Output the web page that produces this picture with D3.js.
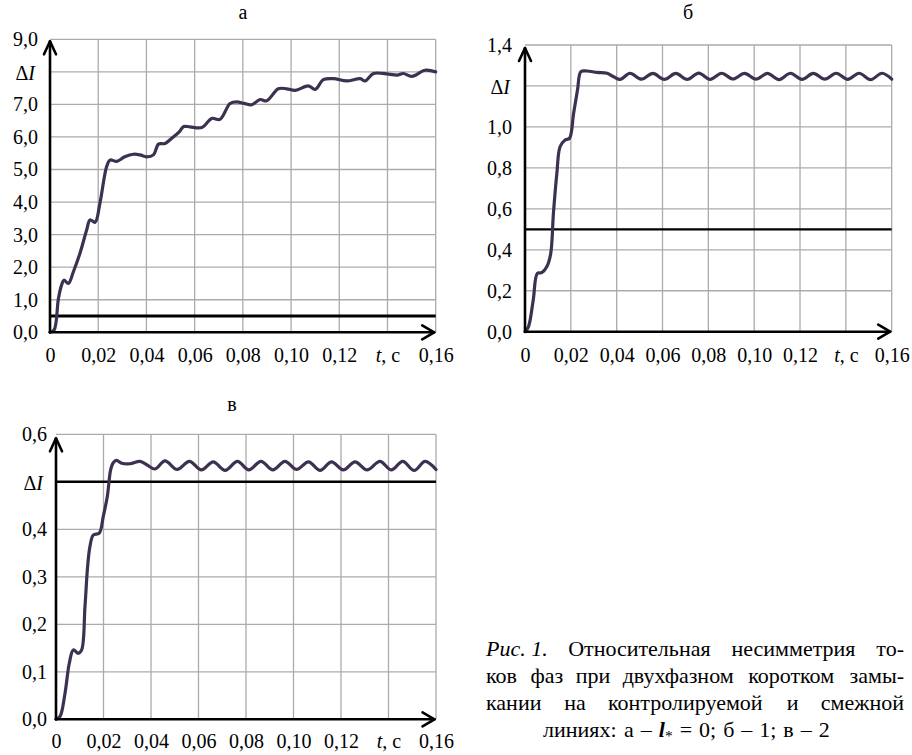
<!DOCTYPE html>
<html><head><meta charset="utf-8">
<script src="https://cdn.jsdelivr.net/npm/d3@7"></script>
</head><body style="margin:0">
<svg id="c" width="912" height="755"></svg>
<script>
// ---------- data ----------
const timeTicks = [0, 0.02, 0.04, 0.06, 0.08, 0.10, 0.12, 0.14, 0.16];
const timeLabels = ["0", "0,02", "0,04", "0,06", "0,08", "0,10", "0,12", "t, c", "0,16"];

const aTicks = [0, 1, 2, 3, 4, 5, 6, 7, 8, 9];
const aLabels = ["0,0", "1,0", "2,0", "3,0", "4,0", "5,0", "6,0", "7,0", "ΔI", "9,0"];
const aThreshold = 0.5;
const aTime = [0, 0.0017, 0.0035, 0.0048, 0.0058, 0.0076, 0.0097, 0.0124, 0.0152, 0.0166, 0.0187, 0.0207, 0.0235, 0.0249, 0.0277, 0.031, 0.0346, 0.0373, 0.040, 0.0429, 0.045, 0.0477, 0.0505, 0.0535, 0.0555, 0.058, 0.063, 0.0671, 0.0705, 0.0747, 0.0775, 0.0805, 0.0837, 0.0871, 0.0899, 0.0947, 0.0982, 0.1017, 0.1072, 0.1100, 0.1134, 0.1176, 0.1231, 0.1287, 0.1307, 0.1342, 0.1404, 0.1440, 0.1466, 0.1501, 0.1556, 0.16];
const aValue = [0, 0.07, 1.04, 1.45, 1.6, 1.5, 1.86, 2.42, 3.14, 3.45, 3.38, 3.96, 5.09, 5.29, 5.25, 5.39, 5.47, 5.45, 5.39, 5.45, 5.78, 5.8, 5.96, 6.15, 6.32, 6.31, 6.29, 6.57, 6.54, 7.03, 7.08, 7.03, 6.99, 7.15, 7.11, 7.48, 7.48, 7.43, 7.57, 7.46, 7.76, 7.79, 7.72, 7.79, 7.72, 7.95, 7.93, 7.9, 7.95, 7.86, 8.05, 8.0];

const bTicks = [0, 0.2, 0.4, 0.6, 0.8, 1.0, 1.2, 1.4];
const bLabels = ["0,0", "0,2", "0,4", "0,6", "0,8", "1,0", "ΔI", "1,4"];
const bThreshold = 0.5;
const bTime = [0, 0.0015, 0.0036, 0.0054, 0.0073, 0.0095, 0.0112, 0.0124, 0.0139, 0.0153, 0.0175, 0.0194, 0.0212, 0.0229, 0.0244, 0.027, 0.0314, 0.0358, 0.0387, 0.0416, 0.0458, 0.0508, 0.0558, 0.0608, 0.0658, 0.0708, 0.0758, 0.0808, 0.0858, 0.0908, 0.0958, 0.1008, 0.1058, 0.1108, 0.1158, 0.1208, 0.1258, 0.1308, 0.1358, 0.1408, 0.1458, 0.1508, 0.1558, 0.16];
const bValue = [0, 0.024, 0.155, 0.285, 0.288, 0.317, 0.38, 0.578, 0.773, 0.903, 0.936, 0.944, 1.066, 1.18, 1.27, 1.273, 1.266, 1.262, 1.245, 1.232, 1.262, 1.233, 1.261, 1.232, 1.261, 1.232, 1.263, 1.232, 1.262, 1.234, 1.261, 1.233, 1.261, 1.231, 1.262, 1.232, 1.261, 1.233, 1.262, 1.232, 1.262, 1.231, 1.262, 1.233];

const cTicks = [0, 0.1, 0.2, 0.3, 0.4, 0.5, 0.6];
const cLabels = ["0,0", "0,1", "0,2", "0,3", "0,4", "ΔI", "0,6"];
const cThreshold = 0.5;
const cTime = [0, 0.0017, 0.0038, 0.0056, 0.0073, 0.0094, 0.0108, 0.0122, 0.0133, 0.0143, 0.0157, 0.0182, 0.0199, 0.0216, 0.023, 0.0241, 0.0255, 0.0277, 0.0312, 0.0354, 0.0382, 0.0417, 0.0459, 0.0510, 0.0562, 0.0612, 0.0662, 0.0712, 0.0764, 0.0812, 0.0863, 0.0913, 0.0964, 0.1013, 0.1063, 0.1112, 0.116, 0.121, 0.1259, 0.131, 0.1364, 0.1412, 0.146, 0.1508, 0.1554, 0.16];
const cValue = [0, 0.006, 0.055, 0.118, 0.146, 0.139, 0.146, 0.237, 0.321, 0.364, 0.388, 0.392, 0.427, 0.469, 0.525, 0.54, 0.545, 0.539, 0.538, 0.543, 0.536, 0.527, 0.544, 0.526, 0.543, 0.525, 0.542, 0.524, 0.543, 0.525, 0.543, 0.525, 0.543, 0.526, 0.542, 0.524, 0.542, 0.525, 0.542, 0.525, 0.543, 0.525, 0.543, 0.524, 0.543, 0.526];

const captionLines = [
  ["Рис. 1.", "Относительная", "несимметрия", "то-"],
  ["ков", "фаз", "при", "двухфазном", "коротком", "замы-"],
  ["кании", "на", "контролируемой", "и", "смежной"],
  ["линиях:", "а", "–", "l*", "=", "0;", "б", "–", "1;", "в", "–", "2"]
];

// ---------- drawing ----------
const FONT = "Liberation Serif";
const svg = d3.select("#c");

// approximate glyph advance widths (per 1000 em) of a Times-metric serif font
const W = {"а":444,"б":500,"в":472,"г":411,"д":509,"е":444,"ж":691,"з":395,"и":535,"й":535,"к":486,"л":499,"м":633,"н":535,"о":500,"п":535,"р":500,"с":444,"т":437,"у":500,"ф":648,"х":500,"ы":672,"ь":456,"я":486,
  "Р":556,"О":722,".":250,",":250,":":278,";":278,"-":333,"–":500,"=":564," ":250,"*":350,"l":278};
const textW = (s, size) => [...s].reduce((acc, ch) => acc + (W[ch] ?? 500), 0) / 1000 * size;

function txt(parent) { return parent.append("text").attr("font-family", FONT).style("font-family", FONT); }

function rich(sel, label) {
  sel.text(null).attr("font-family", FONT).style("font-family", FONT);
  if (label === "ΔI") {
    sel.append("tspan").text("Δ");
    sel.append("tspan").attr("font-style", "italic").text("I");
  } else if (label === "t, c") {
    sel.append("tspan").attr("font-style", "italic").text("t");
    sel.append("tspan").text(", c");
  } else sel.text(label);
}

function panel(cfg) {
  const x = d3.scaleLinear().domain([0, d3.max(timeTicks)]).range([cfg.x0, cfg.x1]);
  const y = d3.scaleLinear().domain([0, d3.max(cfg.yTicks)]).range([cfg.yb, cfg.yt]);
  const g = svg.append("g");

  txt(g).attr("x", cfg.titleX).attr("y", cfg.titleY)
    .attr("text-anchor", "middle").attr("font-size", 20).text(cfg.title);

  const grid = g.append("g").attr("stroke", "#ababab").attr("stroke-width", 1.3);
  grid.selectAll(".v").data(timeTicks.slice(1)).join("line")
    .attr("x1", d => x(d)).attr("x2", d => x(d)).attr("y1", y(0)).attr("y2", y(d3.max(cfg.yTicks)));
  grid.selectAll(".h").data(cfg.yTicks.slice(1)).join("line")
    .attr("x1", x(0)).attr("x2", x(d3.max(timeTicks))).attr("y1", d => y(d)).attr("y2", d => y(d));

  g.append("line").attr("x1", x(0)).attr("x2", x(d3.max(timeTicks)))
    .attr("y1", y(cfg.threshold)).attr("y2", y(cfg.threshold))
    .attr("stroke", "#000").attr("stroke-width", cfg.thrW);

  const pts = cfg.time.map((t, i) => [t, cfg.value[i]]);
  g.append("path").datum(pts)
    .attr("d", d3.line().x(d => x(d[0])).y(d => y(d[1])).curve(d3.curveCatmullRom.alpha(0.5)))
    .attr("fill", "none").attr("stroke", "#3d3152").attr("stroke-width", 3.2)
    .attr("stroke-linejoin", "round").attr("stroke-linecap", "round");

  const ax = g.append("g").attr("stroke", "#000").attr("fill", "none").attr("stroke-width", 2.6)
    .attr("stroke-linecap", "round").attr("stroke-linejoin", "round");
  const X0 = x(0), Y0 = y(0);
  const yTip = y(d3.max(cfg.yTicks)) + cfg.yTipOff;
  const xTip = x(d3.max(timeTicks)) - 1.5;
  ax.append("path").attr("d", `M${X0},${Y0}V${yTip}`);
  ax.append("path").attr("d", `M${X0 - 6},${yTip + 13}L${X0},${yTip}L${X0 + 6},${yTip + 13}`);
  ax.append("path").attr("d", `M${X0},${Y0}H${xTip}`);
  ax.append("path").attr("d", `M${xTip - 12},${Y0 - 7}L${xTip},${Y0}L${xTip - 12},${Y0 + 7}`);

  const xa = g.append("g").attr("transform", `translate(0,${Y0})`)
    .call(d3.axisBottom(x).tickValues(timeTicks).tickSize(0).tickPadding(cfg.xPad).tickFormat(() => ""));
  xa.select(".domain").remove();
  xa.attr("font-family", FONT).attr("font-size", 20);
  xa.selectAll(".tick text").attr("fill", "#000").each(function (d, i) { rich(d3.select(this), timeLabels[i]); });

  const ya = g.append("g").attr("transform", `translate(${X0},0)`)
    .call(d3.axisLeft(y).tickValues(cfg.yTicks).tickSize(0).tickPadding(cfg.yPad).tickFormat(() => ""));
  ya.select(".domain").remove();
  ya.attr("font-family", FONT).attr("font-size", 20);
  ya.selectAll(".tick text").attr("fill", "#000").each(function (d, i) {
    const lab = cfg.yLabels[i];
    rich(d3.select(this), lab);
    if (lab === "ΔI") d3.select(this).attr("dx", cfg.dIdx).attr("dy", "0.38em");
  });
}

panel({ title: "а", titleX: 243, titleY: 19, x0: 50, x1: 435.7, yb: 332.3, yt: 39.3,
  yTicks: aTicks, yLabels: aLabels, threshold: aThreshold, thrW: 3.2, time: aTime, value: aValue,
  xPad: 16, yPad: 12, yTipOff: 2, dIdx: -3 });
panel({ title: "б", titleX: 688, titleY: 19, x0: 525, x1: 891.7, yb: 331.7, yt: 45,
  yTicks: bTicks, yLabels: bLabels, threshold: bThreshold, thrW: 2.2, time: bTime, value: bValue,
  xPad: 16, yPad: 13, yTipOff: 3, dIdx: -2 });
panel({ title: "в", titleX: 232, titleY: 411, x0: 56, x1: 436, yb: 719.3, yt: 434.3,
  yTicks: cTicks, yLabels: cLabels, threshold: cThreshold, thrW: 2.6, time: cTime, value: cValue,
  xPad: 15, yPad: 9, yTipOff: 4, dIdx: -4 });

// ---------- caption ----------
const capFont = 22, capL = 486, capR = 904, capLine4X = 543, capLine4Extra = 1.5;
const capBase = [656, 683, 710, 737];
const cap = svg.append("g").attr("font-size", capFont).attr("fill", "#000");

function wordNode(parent, w, li) {
  const t = txt(parent);
  if (li === 0 && w === "Рис. 1.") { t.attr("font-style", "italic").text(w); }
  else if (w === "l*") {
    t.append("tspan").attr("font-style", "italic").attr("font-weight", "bold").text("l");
    t.append("tspan").attr("font-size", capFont * 0.7).attr("dy", 4).text("*");
  } else t.text(w);
  return t;
}

captionLines.forEach((words, li) => {
  if (li < 3) {
    const widths = words.map(w => textW(w, capFont));
    const gap = (capR - capL - d3.sum(widths)) / (words.length - 1);
    let cx = capL;
    words.forEach((w, i) => {
      const n = wordNode(cap, w, li).attr("y", capBase[li]).attr("x", cx);
      if (i === words.length - 1) n.attr("x", capR).attr("text-anchor", "end");
      cx += widths[i] + gap;
    });
  } else {
    let cx = capLine4X;
    words.forEach(w => {
      wordNode(cap, w, li).attr("y", capBase[li]).attr("x", cx);
      cx += textW(w, capFont) + textW(" ", capFont) + capLine4Extra;
    });
  }
});
</script>
</body></html>
